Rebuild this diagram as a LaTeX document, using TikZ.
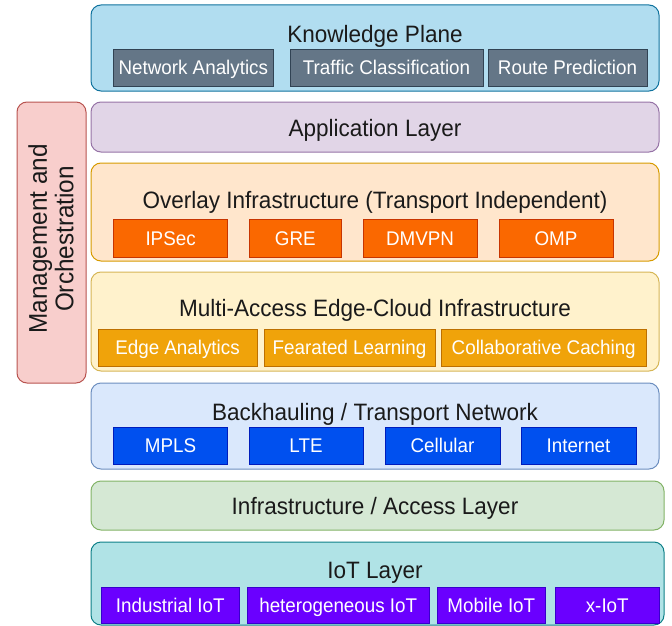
\documentclass[tikz,border=0pt]{standalone}
\usepackage{fontspec}
\setmainfont[FakeStretch=0.95]{Liberation Sans}
\definecolor{kpF}{HTML}{B1DDF0}\definecolor{kpD}{HTML}{10739E}
\definecolor{kpsF}{HTML}{647687}\definecolor{kpsD}{HTML}{314354}
\definecolor{apF}{HTML}{E1D5E7}\definecolor{apD}{HTML}{9673A6}
\definecolor{ovF}{HTML}{FFE6CC}\definecolor{ovD}{HTML}{D79B00}
\definecolor{ovsF}{HTML}{FA6800}\definecolor{ovsD}{HTML}{C73500}
\definecolor{meF}{HTML}{FFF2CC}\definecolor{meD}{HTML}{D6B656}
\definecolor{mesF}{HTML}{F0A30A}\definecolor{mesD}{HTML}{BD7000}
\definecolor{mgF}{HTML}{F8CECC}\definecolor{mgD}{HTML}{B85450}
\definecolor{bhF}{HTML}{DAE8FC}\definecolor{bhD}{HTML}{6C8EBF}
\definecolor{bhsF}{HTML}{0050EF}\definecolor{bhsD}{HTML}{001DBC}
\definecolor{inF}{HTML}{D5E8D4}\definecolor{inD}{HTML}{82B366}
\definecolor{ioF}{HTML}{B0E3E6}\definecolor{ioD}{HTML}{0E8088}
\definecolor{iosF}{HTML}{6A00FF}\definecolor{iosD}{HTML}{3700CC}
\definecolor{txt}{HTML}{1A1A1A}
\tikzset{
  layer/.style={draw, rounded corners=10pt, line width=1pt, inner sep=0pt, outer sep=0pt},
  ttl/.style={text=txt, inner sep=0pt, anchor=base, font=\fontsize{23.7}{26}\selectfont},
  sub/.style={draw, line width=0.9pt, inner sep=0pt, outer sep=0pt, text=white,
    font=\fontsize{19.8}{22}\selectfont, text height=14.2pt, text depth=0pt},
}
\begin{document}
\begin{tikzpicture}[x=1pt,y=-1pt]
\useasboundingbox (0,0) rectangle (672,626);
% Knowledge Plane
\node[layer, fill=kpF, draw=kpD, minimum width=568pt, minimum height=86pt] (kp) at (375,48) {};
\node[ttl] (kpt) at (375,42.7) {Knowledge Plane};
\node[sub, fill=kpsF, draw=kpsD, minimum width=159.4pt, minimum height=37pt] (na) at (193.3,67.5) {Network Analytics};
\node[sub, fill=kpsF, draw=kpsD, minimum width=193pt, minimum height=37pt] (tc) at (386.5,67.5) {Traffic Classification};
\node[sub, fill=kpsF, draw=kpsD, minimum width=159pt, minimum height=37pt] (rp) at (567.5,67.5) {Route Prediction};
% Application
\node[layer, fill=apF, draw=apD, minimum width=568pt, minimum height=50pt] (ap) at (375,127) {};
\node[ttl] (apt) at (375,136.7) {Application Layer};
% Management
\node[layer, fill=mgF, draw=mgD, minimum width=69pt, minimum height=281pt] (mg) at (51.5,242.5) {};
\node[text=txt, inner sep=0pt, rotate=90, align=center, font=\fontsize{25.6}{26.5}\selectfont] (mgt) at (51,239) {Management and\\Orchestration};
% Overlay
\node[layer, fill=ovF, draw=ovD, minimum width=568pt, minimum height=98pt] (ov) at (375,212) {};
\node[ttl] (ovt) at (375,208.3) {Overlay Infrastructure (Transport Independent)};
\node[sub, fill=ovsF, draw=ovsD, minimum width=114pt, minimum height=38pt] (ips) at (170.6,238) {IPSec};
\node[sub, fill=ovsF, draw=ovsD, minimum width=92.6pt, minimum height=38pt] (gre) at (295.3,238) {GRE};
\node[sub, fill=ovsF, draw=ovsD, minimum width=114pt, minimum height=38pt] (dmv) at (420,238) {DMVPN};
\node[sub, fill=ovsF, draw=ovsD, minimum width=114pt, minimum height=38pt] (omp) at (556,238) {OMP};
% MEC
\node[layer, fill=meF, draw=meD, minimum width=568pt, minimum height=99pt] (me) at (375,321.5) {};
\node[ttl] (met) at (375,316.7) {Multi-Access Edge-Cloud Infrastructure};
\node[sub, fill=mesF, draw=mesD, minimum width=159pt, minimum height=37pt] (ea) at (177.5,347.5) {Edge Analytics};
\node[sub, fill=mesF, draw=mesD, minimum width=171pt, minimum height=37pt] (fl) at (349.5,347.5) {Fearated Learning};
\node[sub, fill=mesF, draw=mesD, minimum width=204.5pt, minimum height=37pt] (cc) at (543.75,347.5) {Collaborative Caching};
% Backhaul
\node[layer, fill=bhF, draw=bhD, minimum width=568pt, minimum height=86pt] (bh) at (375,426) {};
\node[ttl] (bht) at (375,420.7) {Backhauling / Transport Network};
\node[sub, fill=bhsF, draw=bhsD, minimum width=114pt, minimum height=37pt] (mpls) at (170.6,445.5) {MPLS};
\node[sub, fill=bhsF, draw=bhsD, minimum width=114pt, minimum height=37pt] (lte) at (306,445.5) {LTE};
\node[sub, fill=bhsF, draw=bhsD, minimum width=115pt, minimum height=37pt] (cel) at (442.5,445.5) {Cellular};
\node[sub, fill=bhsF, draw=bhsD, minimum width=115pt, minimum height=37pt] (int) at (578.5,445.5) {Internet};
% Infrastructure
\node[layer, fill=inF, draw=inD, minimum width=573pt, minimum height=49pt] (in) at (377.5,505.5) {};
\node[ttl] (int2) at (375,514) {Infrastructure / Access Layer};
% IoT
\node[layer, fill=ioF, draw=ioD, minimum width=573pt, minimum height=83pt] (io) at (377.5,583.5) {};
\node[ttl] (iot) at (375,578.3) {IoT Layer};
\node[sub, fill=iosF, draw=iosD, minimum width=137.4pt, minimum height=36pt] (ind) at (170.3,605) {Industrial IoT};
\node[sub, fill=iosF, draw=iosD, minimum width=182.5pt, minimum height=36pt] (het) at (338.25,605) {heterogeneous IoT};
\node[sub, fill=iosF, draw=iosD, minimum width=108.6pt, minimum height=36pt] (mob) at (491.3,605) {Mobile IoT};
\node[sub, fill=iosF, draw=iosD, minimum width=103.5pt, minimum height=36pt] (xio) at (607.25,605) {x-IoT};
\end{tikzpicture}
\end{document}
